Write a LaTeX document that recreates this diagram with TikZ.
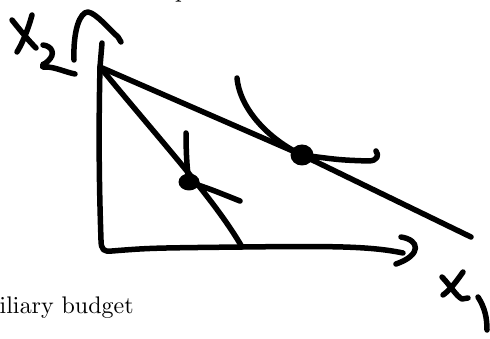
\documentclass[tikz,border=0pt]{standalone}
\font\auxfont=cmr10 at 24pt
\begin{document}
\begin{tikzpicture}[x=1pt,y=-1pt,
  pen/.style={line width=5.5pt, line cap=round, line join=round},
  blob/.style={fill=black},
  lbl/.style={inner sep=0pt, anchor=base west, font=\auxfont}]
\useasboundingbox (0,0) rectangle (490,339);
% key points
\coordinate (A) at (102,43);
\coordinate (O) at (100,67);
\coordinate (corner) at (101,240);
\coordinate (steepend) at (242,247);
\coordinate (flatend) at (471,237);
\coordinate (axend) at (403,253);
\coordinate (dotA) at (189,182);
\coordinate (dotB) at (302,155);
% axes
\draw[pen] (A) .. controls (101,55) .. (O)
  .. controls (98,150) and (100,210) .. (corner)
  .. controls (101,250) and (104,252) .. (112,251)
  .. controls (150,248) .. (steepend)
  .. controls (330,246) and (370,246) .. (axend);
\draw[pen] (401,237) .. controls (420,240) and (422,255) .. (396,264);
% budget lines
\draw[pen] (O) .. controls (160,140) and (215,200) .. (steepend);
\draw[pen] (O) -- (dotB) -- (flatend);
% indifference curves
\draw[pen] (186,133) .. controls (186,160) and (188,176) .. (dotA)
  .. controls (210,189) .. (240,201);
\draw[pen] (237,78) .. controls (240,110) and (270,140) .. (dotB)
  .. controls (340,160) .. (368,161) .. controls (378,161) and (379,155) .. (376,151);
% tangency dots
\fill[blob] (dotA) ellipse [x radius=10.5, y radius=8.5];
\fill[blob] (dotB) ellipse [x radius=11.5, y radius=10.5];
% handwritten x_2 and arch
\draw[pen] (12,20) .. controls (20,30) and (28,40) .. (36,48);
\draw[pen] (32,15) .. controls (28,30) and (22,44) .. (17,52);
\draw[pen] (43,45) .. controls (52,46) and (56,54) .. (48,61)
  .. controls (42,66) and (40,68) .. (46,67)
  .. controls (55,67) and (65,72) .. (75,74);
\fill[blob] (44,65) circle [radius=4];
\draw[pen] (74,60) .. controls (73,30) and (80,12) .. (88,12)
  .. controls (96,13) and (110,30) .. (118,37) -- (121,42);
% handwritten x_1
\draw[pen] (442,277) .. controls (450,285) and (456,296) .. (462,299) -- (468,298);
\draw[pen] (463,272) .. controls (456,282) and (450,290) .. (443,295);
\draw[pen] (478,297) .. controls (485,308) and (487,318) .. (487,330);
% cropped texts
\node[lbl] (ptext) at (175,-2.6) {p};
\node[lbl] (aux) at (-0.5,313) {iliary budget};
\end{tikzpicture}
\end{document}
